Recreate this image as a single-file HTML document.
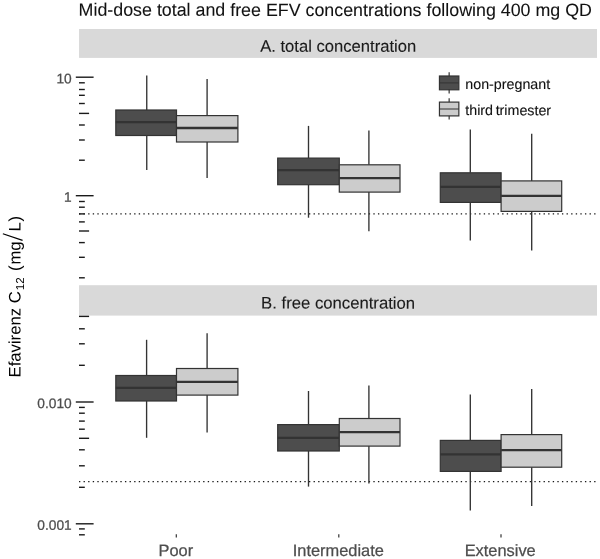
<!DOCTYPE html>
<html>
<head>
<meta charset="utf-8">
<title>Mid-dose total and free EFV concentrations</title>
<style>
html,body{margin:0;padding:0;background:#fff}
svg{display:block;will-change:transform;opacity:0.999}
text{font-family:"Liberation Sans",sans-serif}
</style>
</head>
<body>
<svg width="600" height="559" viewBox="0 0 600 559">
<rect width="600" height="559" fill="#fff"/>
<text transform="translate(78.6 15.8) rotate(0.03)" font-size="17.84" fill="#111" stroke="#111" stroke-width="0.08">Mid-dose total and free EFV concentrations following 400 mg QD</text>
<rect x="79.05" y="29.0" width="517.95" height="28.9" fill="#d9d9d9"/>
<rect x="79.05" y="285.2" width="517.95" height="30.4" fill="#d9d9d9"/>
<text transform="translate(338.2 51.75) rotate(0.03)" font-size="16.62" fill="#1a1a1a" stroke="#1a1a1a" stroke-width="0.12" text-anchor="middle">A. total concentration</text>
<text transform="translate(338.1 308.6) rotate(0.03)" font-size="16.7" fill="#1a1a1a" stroke="#1a1a1a" stroke-width="0.12" text-anchor="middle">B. free concentration</text>
<line x1="79.05" x2="597.0" y1="213.9" y2="213.9" stroke="#1a1a1a" stroke-width="1.4" stroke-dasharray="1.35 3.25" stroke-dashoffset="0.1"/>
<line x1="79.05" x2="597.0" y1="481.6" y2="481.6" stroke="#1a1a1a" stroke-width="1.4" stroke-dasharray="1.35 3.25" stroke-dashoffset="0.1"/>
<line x1="75.8" x2="93.6" y1="77.20" y2="77.20" stroke="#1a1a1a" stroke-width="1.4"/>
<line x1="79.0" x2="84.8" y1="82.80" y2="82.80" stroke="#1a1a1a" stroke-width="1.4"/>
<line x1="79.0" x2="84.8" y1="89.50" y2="89.50" stroke="#1a1a1a" stroke-width="1.4"/>
<line x1="79.0" x2="84.8" y1="95.30" y2="95.30" stroke="#1a1a1a" stroke-width="1.4"/>
<line x1="79.0" x2="84.8" y1="103.50" y2="103.50" stroke="#1a1a1a" stroke-width="1.4"/>
<line x1="79.0" x2="89.1" y1="113.40" y2="113.40" stroke="#1a1a1a" stroke-width="1.4"/>
<line x1="79.0" x2="84.8" y1="125.00" y2="125.00" stroke="#1a1a1a" stroke-width="1.4"/>
<line x1="79.0" x2="84.8" y1="140.00" y2="140.00" stroke="#1a1a1a" stroke-width="1.4"/>
<line x1="79.0" x2="84.8" y1="160.20" y2="160.20" stroke="#1a1a1a" stroke-width="1.4"/>
<line x1="75.8" x2="93.6" y1="195.70" y2="195.70" stroke="#1a1a1a" stroke-width="1.4"/>
<line x1="79.0" x2="84.8" y1="201.50" y2="201.50" stroke="#1a1a1a" stroke-width="1.4"/>
<line x1="79.0" x2="84.8" y1="207.20" y2="207.20" stroke="#1a1a1a" stroke-width="1.4"/>
<line x1="79.0" x2="84.8" y1="213.90" y2="213.90" stroke="#1a1a1a" stroke-width="1.4"/>
<line x1="79.0" x2="84.8" y1="221.90" y2="221.90" stroke="#1a1a1a" stroke-width="1.4"/>
<line x1="79.0" x2="89.1" y1="231.00" y2="231.00" stroke="#1a1a1a" stroke-width="1.4"/>
<line x1="79.0" x2="84.8" y1="242.60" y2="242.60" stroke="#1a1a1a" stroke-width="1.4"/>
<line x1="79.0" x2="84.8" y1="257.30" y2="257.30" stroke="#1a1a1a" stroke-width="1.4"/>
<line x1="79.0" x2="84.8" y1="277.80" y2="277.80" stroke="#1a1a1a" stroke-width="1.4"/>
<line x1="79.0" x2="89.1" y1="316.40" y2="316.40" stroke="#1a1a1a" stroke-width="1.4"/>
<line x1="79.0" x2="84.8" y1="328.80" y2="328.80" stroke="#1a1a1a" stroke-width="1.4"/>
<line x1="79.0" x2="84.8" y1="343.80" y2="343.80" stroke="#1a1a1a" stroke-width="1.4"/>
<line x1="79.0" x2="84.8" y1="365.30" y2="365.30" stroke="#1a1a1a" stroke-width="1.4"/>
<line x1="75.8" x2="93.6" y1="402.00" y2="402.00" stroke="#1a1a1a" stroke-width="1.4"/>
<line x1="79.0" x2="84.8" y1="407.40" y2="407.40" stroke="#1a1a1a" stroke-width="1.4"/>
<line x1="79.0" x2="84.8" y1="413.20" y2="413.20" stroke="#1a1a1a" stroke-width="1.4"/>
<line x1="79.0" x2="84.8" y1="421.10" y2="421.10" stroke="#1a1a1a" stroke-width="1.4"/>
<line x1="79.0" x2="84.8" y1="429.20" y2="429.20" stroke="#1a1a1a" stroke-width="1.4"/>
<line x1="79.0" x2="89.1" y1="438.30" y2="438.30" stroke="#1a1a1a" stroke-width="1.4"/>
<line x1="79.0" x2="84.8" y1="449.80" y2="449.80" stroke="#1a1a1a" stroke-width="1.4"/>
<line x1="79.0" x2="84.8" y1="465.80" y2="465.80" stroke="#1a1a1a" stroke-width="1.4"/>
<line x1="79.0" x2="84.8" y1="487.30" y2="487.30" stroke="#1a1a1a" stroke-width="1.4"/>
<line x1="75.8" x2="93.6" y1="523.80" y2="523.80" stroke="#1a1a1a" stroke-width="1.4"/>
<line x1="79.0" x2="84.8" y1="528.90" y2="528.90" stroke="#1a1a1a" stroke-width="1.4"/>
<line x1="79.0" x2="84.8" y1="534.80" y2="534.80" stroke="#1a1a1a" stroke-width="1.4"/>
<text transform="translate(71.7 83.3) rotate(0.03)" font-size="13.75" fill="#4d4d4d" stroke="#4d4d4d" stroke-width="0.25" text-anchor="end">10</text>
<text transform="translate(71.7 201.8) rotate(0.03)" font-size="13.75" fill="#4d4d4d" stroke="#4d4d4d" stroke-width="0.25" text-anchor="end">1</text>
<text transform="translate(71.7 408.1) rotate(0.03)" font-size="13.75" fill="#4d4d4d" stroke="#4d4d4d" stroke-width="0.25" text-anchor="end">0.010</text>
<text transform="translate(71.7 529.7) rotate(0.03)" font-size="13.75" fill="#4d4d4d" stroke="#4d4d4d" stroke-width="0.25" text-anchor="end">0.001</text>
<line x1="146.75" x2="146.75" y1="75.5" y2="110.0" stroke="#333333" stroke-width="1.35"/>
<line x1="146.75" x2="146.75" y1="135.5" y2="170.1" stroke="#333333" stroke-width="1.35"/>
<rect x="115.8" y="110.0" width="60.70" height="25.50" fill="#4d4d4d" stroke="#333333" stroke-width="1.2"/>
<line x1="115.8" x2="176.5" y1="122.2" y2="122.2" stroke="#333333" stroke-width="2.3"/>
<line x1="207.1" x2="207.1" y1="79.0" y2="115.6" stroke="#333333" stroke-width="1.35"/>
<line x1="207.1" x2="207.1" y1="142.0" y2="178.0" stroke="#333333" stroke-width="1.35"/>
<rect x="176.5" y="115.6" width="61.40" height="26.40" fill="#cccccc" stroke="#333333" stroke-width="1.2"/>
<line x1="176.5" x2="237.9" y1="128.0" y2="128.0" stroke="#333333" stroke-width="2.3"/>
<line x1="308.5" x2="308.5" y1="125.9" y2="158.1" stroke="#333333" stroke-width="1.35"/>
<line x1="308.5" x2="308.5" y1="184.7" y2="217.7" stroke="#333333" stroke-width="1.35"/>
<rect x="277.7" y="158.1" width="61.60" height="26.60" fill="#4d4d4d" stroke="#333333" stroke-width="1.2"/>
<line x1="277.7" x2="339.3" y1="170.2" y2="170.2" stroke="#333333" stroke-width="2.3"/>
<line x1="368.9" x2="368.9" y1="130.5" y2="164.8" stroke="#333333" stroke-width="1.35"/>
<line x1="368.9" x2="368.9" y1="192.1" y2="231.3" stroke="#333333" stroke-width="1.35"/>
<rect x="339.3" y="164.8" width="60.70" height="27.30" fill="#cccccc" stroke="#333333" stroke-width="1.2"/>
<line x1="339.3" x2="400.0" y1="178.1" y2="178.1" stroke="#333333" stroke-width="2.3"/>
<line x1="470.3" x2="470.3" y1="129.5" y2="172.8" stroke="#333333" stroke-width="1.35"/>
<line x1="470.3" x2="470.3" y1="202.4" y2="240.6" stroke="#333333" stroke-width="1.35"/>
<rect x="440.3" y="172.8" width="60.80" height="29.60" fill="#4d4d4d" stroke="#333333" stroke-width="1.2"/>
<line x1="440.3" x2="501.1" y1="186.9" y2="186.9" stroke="#333333" stroke-width="2.3"/>
<line x1="531.7" x2="531.7" y1="133.8" y2="180.9" stroke="#333333" stroke-width="1.35"/>
<line x1="531.7" x2="531.7" y1="211.4" y2="250.6" stroke="#333333" stroke-width="1.35"/>
<rect x="501.1" y="180.9" width="60.60" height="30.50" fill="#cccccc" stroke="#333333" stroke-width="1.2"/>
<line x1="501.1" x2="561.7" y1="195.9" y2="195.9" stroke="#333333" stroke-width="2.3"/>
<line x1="146.6" x2="146.6" y1="339.8" y2="375.5" stroke="#333333" stroke-width="1.35"/>
<line x1="146.6" x2="146.6" y1="401.0" y2="437.8" stroke="#333333" stroke-width="1.35"/>
<rect x="115.8" y="375.5" width="60.70" height="25.50" fill="#4d4d4d" stroke="#333333" stroke-width="1.2"/>
<line x1="115.8" x2="176.5" y1="387.9" y2="387.9" stroke="#333333" stroke-width="2.3"/>
<line x1="207.1" x2="207.1" y1="333.3" y2="368.5" stroke="#333333" stroke-width="1.35"/>
<line x1="207.1" x2="207.1" y1="395.1" y2="432.4" stroke="#333333" stroke-width="1.35"/>
<rect x="176.5" y="368.5" width="61.40" height="26.60" fill="#cccccc" stroke="#333333" stroke-width="1.2"/>
<line x1="176.5" x2="237.9" y1="381.8" y2="381.8" stroke="#333333" stroke-width="2.3"/>
<line x1="308.5" x2="308.5" y1="391.0" y2="424.6" stroke="#333333" stroke-width="1.35"/>
<line x1="308.5" x2="308.5" y1="451.0" y2="486.6" stroke="#333333" stroke-width="1.35"/>
<rect x="277.7" y="424.6" width="61.60" height="26.40" fill="#4d4d4d" stroke="#333333" stroke-width="1.2"/>
<line x1="277.7" x2="339.3" y1="437.9" y2="437.9" stroke="#333333" stroke-width="2.3"/>
<line x1="368.9" x2="368.9" y1="385.4" y2="418.5" stroke="#333333" stroke-width="1.35"/>
<line x1="368.9" x2="368.9" y1="446.1" y2="483.6" stroke="#333333" stroke-width="1.35"/>
<rect x="339.3" y="418.5" width="60.70" height="27.60" fill="#cccccc" stroke="#333333" stroke-width="1.2"/>
<line x1="339.3" x2="400.0" y1="432.1" y2="432.1" stroke="#333333" stroke-width="2.3"/>
<line x1="470.3" x2="470.3" y1="394.5" y2="440.4" stroke="#333333" stroke-width="1.35"/>
<line x1="470.3" x2="470.3" y1="471.4" y2="510.6" stroke="#333333" stroke-width="1.35"/>
<rect x="440.3" y="440.4" width="60.80" height="31.00" fill="#4d4d4d" stroke="#333333" stroke-width="1.2"/>
<line x1="440.3" x2="501.1" y1="454.4" y2="454.4" stroke="#333333" stroke-width="2.3"/>
<line x1="531.7" x2="531.7" y1="389.0" y2="434.6" stroke="#333333" stroke-width="1.35"/>
<line x1="531.7" x2="531.7" y1="467.2" y2="506.1" stroke="#333333" stroke-width="1.35"/>
<rect x="501.1" y="434.6" width="60.60" height="32.60" fill="#cccccc" stroke="#333333" stroke-width="1.2"/>
<line x1="501.1" x2="561.7" y1="450.1" y2="450.1" stroke="#333333" stroke-width="2.3"/>
<line x1="449.15" x2="449.15" y1="72.20" y2="93.50" stroke="#333333" stroke-width="1.2"/>
<rect x="439.45" y="76.00" width="19.4" height="13.8" fill="#4d4d4d" stroke="#333333" stroke-width="1.2"/>
<line x1="439.45" x2="458.85" y1="82.90" y2="82.90" stroke="#333333" stroke-width="1.0"/>
<line x1="449.15" x2="449.15" y1="98.30" y2="119.60" stroke="#333333" stroke-width="1.2"/>
<rect x="439.45" y="102.10" width="19.4" height="13.8" fill="#cccccc" stroke="#333333" stroke-width="1.2"/>
<line x1="439.45" x2="458.85" y1="109.00" y2="109.00" stroke="#333333" stroke-width="1.0"/>
<text transform="translate(465.3 89.0) rotate(0.03)" font-size="14.28" fill="#111" stroke="#111" stroke-width="0.12">non-pregnant</text>
<text transform="translate(465.3 115.1) rotate(0.03)" font-size="14.28" fill="#111" stroke="#111" stroke-width="0.12">third<tspan dx="-1.4"> </tspan>trimester</text>
<line x1="176.3" x2="176.3" y1="534.2" y2="537.5" stroke="#333" stroke-width="1.2"/>
<text transform="translate(175.8 556.0) rotate(0.03)" font-size="16.4" fill="#4d4d4d" stroke="#4d4d4d" stroke-width="0.25" text-anchor="middle">Poor</text>
<line x1="338.8" x2="338.8" y1="534.2" y2="537.5" stroke="#333" stroke-width="1.2"/>
<text transform="translate(338.3 556.0) rotate(0.03)" font-size="16.4" fill="#4d4d4d" stroke="#4d4d4d" stroke-width="0.25" text-anchor="middle">Intermediate</text>
<line x1="501.0" x2="501.0" y1="534.2" y2="537.5" stroke="#333" stroke-width="1.2"/>
<text transform="translate(500.2 556.0) rotate(0.03)" font-size="16.4" fill="#4d4d4d" stroke="#4d4d4d" stroke-width="0.25" text-anchor="middle">Extensive</text>
<g transform="translate(20.4 377.5) rotate(-89.97)" fill="#000" font-size="16.7"><text x="0" y="0">Efavirenz C</text><text x="87.2" y="3.65" font-size="11.6">12</text><text x="106.4" y="0">(</text><text x="112.9" y="0">mg</text><line x1="137.1" y1="2.1" x2="143.75" y2="-17.6" stroke="#000" stroke-width="1.25"/><text x="146.1" y="0">L</text><text x="156.0" y="0">)</text></g>
</svg>
</body>
</html>
